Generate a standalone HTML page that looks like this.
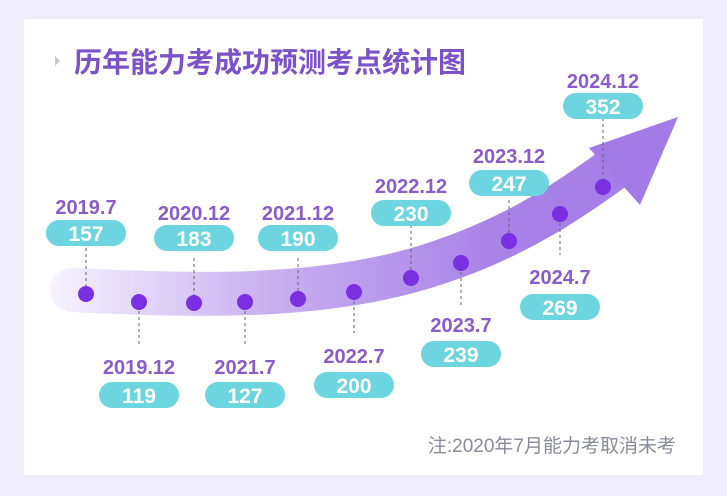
<!DOCTYPE html>
<html><head><meta charset="utf-8"><style>
body{margin:0;width:727px;height:496px;background:#efedfb;overflow:hidden;font-family:"Liberation Sans","Noto Sans CJK SC",sans-serif}
.card{position:absolute;left:24px;top:19px;width:679px;height:456px;background:#fff}
</style></head><body>
<div class="card"></div>
<svg width="727" height="496" style="position:absolute;left:0;top:0">
<defs>
<linearGradient id="g" x1="50" y1="0" x2="680" y2="0" gradientUnits="userSpaceOnUse">
<stop offset="0" stop-color="#f6f2fd"/><stop offset="0.35" stop-color="#c8b0f0"/><stop offset="0.7" stop-color="#a983e8"/><stop offset="1" stop-color="#a37be6"/>
</linearGradient>
</defs>
<path d="M72,290 C200,296 330,300 440,262 C520,235 570,200 625,160" fill="none" stroke="url(#g)" stroke-width="44" stroke-linecap="round"/>
<polygon points="589,148 678,117 640,205" fill="#a37be6"/>
<polygon points="55,56 55,66 60,61" fill="#c8c4d8"/>
<text x="74" y="72" font-size="28" font-weight="bold" fill="#7b52c8" font-family="Liberation Sans,Noto Sans CJK SC,sans-serif">历年能力考成功预测考点统计图</text>
<g stroke="#666" stroke-dasharray="3,3" stroke-width="1">
<line x1="86" y1="248" x2="86" y2="292"/><line x1="139" y1="305" x2="139" y2="345"/>
<line x1="194" y1="258" x2="194" y2="300"/><line x1="245" y1="305" x2="245" y2="345"/>
<line x1="298" y1="258" x2="298" y2="296"/><line x1="354" y1="295" x2="354" y2="333"/>
<line x1="411" y1="225" x2="411" y2="275"/><line x1="461" y1="266" x2="461" y2="305"/>
<line x1="509" y1="200" x2="509" y2="238"/><line x1="560" y1="217" x2="560" y2="255"/>
<line x1="603" y1="118" x2="603" y2="184"/>
</g>
<g fill="#7a2fe0">
<circle cx="86" cy="294" r="8"/><circle cx="139" cy="302" r="8"/><circle cx="194" cy="303" r="8"/><circle cx="245" cy="302" r="8"/><circle cx="298" cy="299" r="8"/><circle cx="354" cy="292" r="8"/><circle cx="411" cy="278" r="8"/><circle cx="461" cy="263" r="8"/><circle cx="509" cy="241" r="8"/><circle cx="560" cy="214" r="8"/><circle cx="603" cy="187" r="8"/>
</g>
<g font-weight="bold" text-anchor="middle" font-size="20">
<g fill="#8a5cc8">
<text x="86" y="214">2019.7</text><text x="194" y="220">2020.12</text><text x="298" y="220">2021.12</text>
<text x="411" y="193">2022.12</text><text x="509" y="163">2023.12</text><text x="603" y="88">2024.12</text>
<text x="139" y="374">2019.12</text><text x="245" y="374">2021.7</text><text x="354" y="363">2022.7</text>
<text x="461" y="332">2023.7</text><text x="560" y="284">2024.7</text>
</g>
<g fill="#6dd5e0">
<rect x="46" y="220" width="80" height="26" rx="13"/><rect x="154" y="225" width="80" height="26" rx="13"/><rect x="258" y="225" width="80" height="26" rx="13"/>
<rect x="371" y="200" width="80" height="26" rx="13"/><rect x="469" y="170" width="80" height="26" rx="13"/><rect x="563" y="93" width="80" height="26" rx="13"/>
<rect x="99" y="382" width="80" height="26" rx="13"/><rect x="205" y="382" width="80" height="26" rx="13"/><rect x="314" y="372" width="80" height="26" rx="13"/>
<rect x="421" y="341" width="80" height="26" rx="13"/><rect x="520" y="294" width="80" height="26" rx="13"/>
</g>
<g fill="#fff" font-size="21">
<text x="86" y="241">157</text><text x="194" y="246">183</text><text x="298" y="246">190</text>
<text x="411" y="221">230</text><text x="509" y="191">247</text><text x="603" y="114">352</text>
<text x="139" y="403">119</text><text x="245" y="403">127</text><text x="354" y="393">200</text>
<text x="461" y="362">239</text><text x="560" y="315">269</text>
</g>
</g>
<text x="676" y="452" text-anchor="end" font-size="19" fill="#8a8a9a">注:2020年7月能力考取消未考</text>
</svg>
</body></html>
